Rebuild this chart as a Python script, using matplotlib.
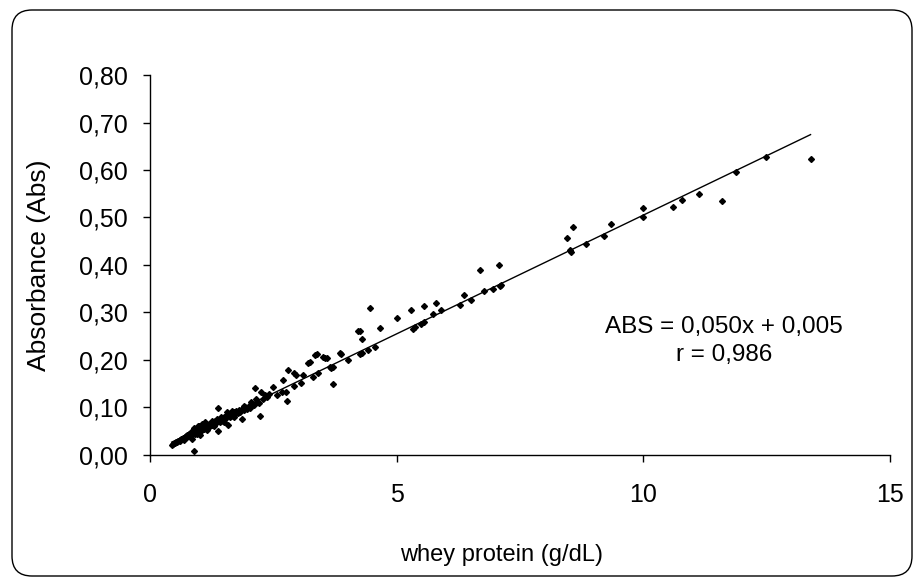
import numpy as np
import matplotlib
matplotlib.use('Agg')
import matplotlib.pyplot as plt
from matplotlib.patches import FancyBboxPatch
from matplotlib.transforms import IdentityTransform

plt.rcParams['font.family'] = ['Liberation Sans', 'DejaVu Sans']

# dense low-concentration cluster
x_low = [0.44, 0.47, 0.50, 0.52, 0.55, 0.57, 0.60, 0.62, 0.64, 0.66, 0.68, 0.70, 0.72, 0.74,
         0.76, 0.78, 0.80, 0.82, 0.84, 0.86, 0.87, 0.88, 0.90, 0.91, 0.93, 0.95, 0.97, 0.99,
         1.01, 1.02, 1.04, 1.06, 1.08, 1.10, 1.12, 1.14, 1.16, 1.18, 1.20, 1.22, 1.24, 1.26,
         1.28, 1.30, 1.32, 1.34, 1.37, 1.38, 1.40, 1.42, 1.45, 1.48, 1.50, 1.52, 1.55, 1.59,
         1.60, 1.62, 1.65, 1.68, 1.70, 1.72, 1.75, 1.78, 1.80, 1.83, 1.86, 1.88, 1.90, 1.93,
         1.96, 2.00, 2.03, 2.06, 2.10, 2.13, 2.16, 2.20, 2.23, 2.26, 2.30, 2.33, 2.38, 2.42,
         0.60, 0.75, 0.90, 1.00, 1.10, 1.20, 1.30, 1.44, 1.56, 1.66, 1.90, 1.00, 0.95, 1.15,
         1.25, 1.35, 1.50, 1.70, 2.05, 2.15, 1.12, 0.98, 1.05]
y_low = [0.022, 0.024, 0.026, 0.028, 0.027, 0.030, 0.031, 0.033, 0.034, 0.035, 0.032, 0.038, 0.036, 0.040,
         0.042, 0.039, 0.044, 0.046, 0.041, 0.033, 0.048, 0.052, 0.009, 0.045, 0.050, 0.055, 0.047, 0.053,
         0.042, 0.058, 0.051, 0.056, 0.060, 0.054, 0.062, 0.057, 0.064, 0.059, 0.066, 0.061, 0.068, 0.063,
         0.070, 0.065, 0.072, 0.067, 0.098, 0.050, 0.074, 0.069, 0.077, 0.072, 0.080, 0.075, 0.082, 0.063,
         0.085, 0.079, 0.088, 0.083, 0.090, 0.086, 0.092, 0.088, 0.095, 0.091, 0.075, 0.098, 0.094, 0.100,
         0.097, 0.103, 0.099, 0.108, 0.105, 0.140, 0.112, 0.110, 0.082, 0.132, 0.118, 0.126, 0.122, 0.128,
         0.029, 0.037, 0.056, 0.049, 0.058, 0.064, 0.060, 0.081, 0.090, 0.092, 0.104, 0.060, 0.044, 0.052,
         0.072, 0.076, 0.070, 0.081, 0.112, 0.118, 0.070, 0.062, 0.066]

# mid range
x_mid = [2.50, 2.57, 2.67, 2.70, 2.75, 2.77, 2.80, 2.91, 2.91, 2.97, 3.07, 3.11, 3.21, 3.24,
         3.31, 3.34, 3.38, 3.41, 3.51, 3.55, 3.58, 3.65, 3.66, 3.70, 3.72, 3.85, 3.87, 4.01,
         4.22, 4.26, 4.26, 4.29, 4.30, 4.41, 4.46, 4.56, 4.67, 5.00, 5.30, 5.33, 5.38, 5.49,
         5.55, 5.56, 5.73, 5.80, 5.89, 6.28, 6.37, 6.51, 6.69, 6.77, 6.96, 7.07, 7.09, 7.11]
y_mid = [0.144, 0.126, 0.133, 0.158, 0.133, 0.114, 0.179, 0.173, 0.145, 0.168, 0.152, 0.168, 0.193, 0.196,
         0.165, 0.211, 0.213, 0.172, 0.207, 0.205, 0.204, 0.186, 0.183, 0.149, 0.185, 0.214, 0.213, 0.200,
         0.262, 0.260, 0.213, 0.244, 0.214, 0.220, 0.310, 0.228, 0.267, 0.288, 0.305, 0.266, 0.269, 0.275,
         0.279, 0.314, 0.296, 0.321, 0.305, 0.315, 0.337, 0.326, 0.389, 0.346, 0.349, 0.399, 0.356, 0.358]

# high range
x_high = [8.45, 8.51, 8.53, 8.58, 8.83, 9.21, 9.35, 9.99, 9.99, 10.60, 10.78, 11.12, 11.60,
          11.87, 12.49, 13.39]
y_high = [0.456, 0.432, 0.427, 0.481, 0.444, 0.462, 0.486, 0.519, 0.500, 0.523, 0.537, 0.550, 0.535,
          0.596, 0.627, 0.624]

slope = 0.050
intercept = 0.005
equation = 'ABS = 0,050x + 0,005'
r_text = 'r = 0,986'

x_ticks = [0, 5, 10, 15]
y_ticks = [0.0, 0.1, 0.2, 0.3, 0.4, 0.5, 0.6, 0.7, 0.8]
y_ticklabels = ['0,00', '0,10', '0,20', '0,30', '0,40', '0,50', '0,60', '0,70', '0,80']

x = np.array(x_low + x_mid + x_high)
y = np.array(y_low + y_mid + y_high)

fig = plt.figure(figsize=(9.19, 5.81), dpi=100)
ax = fig.add_axes([0.1632, 0.2169, 0.8052, 0.654])

# rounded outer frame (pixel coords)
frame = FancyBboxPatch((12, 5), 900, 566, boxstyle='round,pad=0,rounding_size=20',
                       transform=IdentityTransform(), fill=False, edgecolor='black',
                       linewidth=1.0, zorder=0)
fig.patches.append(frame)

ax.plot(x, y, linestyle='none', marker='D', markersize=3.0, color='black')
xl = np.array([x.min(), x.max()])
ax.plot(xl, slope * xl + intercept, color='black', linewidth=1.0)

ax.set_xlim(0, 15)
ax.set_ylim(0, 0.8)
ax.set_xticks(x_ticks)
ax.set_xticklabels([str(t) for t in x_ticks])
ax.set_yticks(y_ticks)
ax.set_yticklabels(y_ticklabels)
for s in ['top', 'right']:
    ax.spines[s].set_visible(False)
for s in ['left', 'bottom']:
    ax.spines[s].set_linewidth(1.0)
ax.tick_params(direction='out', length=5, width=1.0, labelsize=18)
ax.tick_params(axis='y', pad=11)
ax.tick_params(axis='x', pad=15)

ax.set_xlabel('whey protein (g/dL)', fontsize=17, labelpad=24)
ax.xaxis.set_label_coords(0.475, -0.235)
ax.set_ylabel('Absorbance (Abs)', fontsize=19, labelpad=20)

ax.text(11.64, 0.27, equation, ha='center', va='center', fontsize=17.5)
ax.text(11.64, 0.21, r_text, ha='center', va='center', fontsize=17.5)

fig.savefig('out.png', dpi=100)
